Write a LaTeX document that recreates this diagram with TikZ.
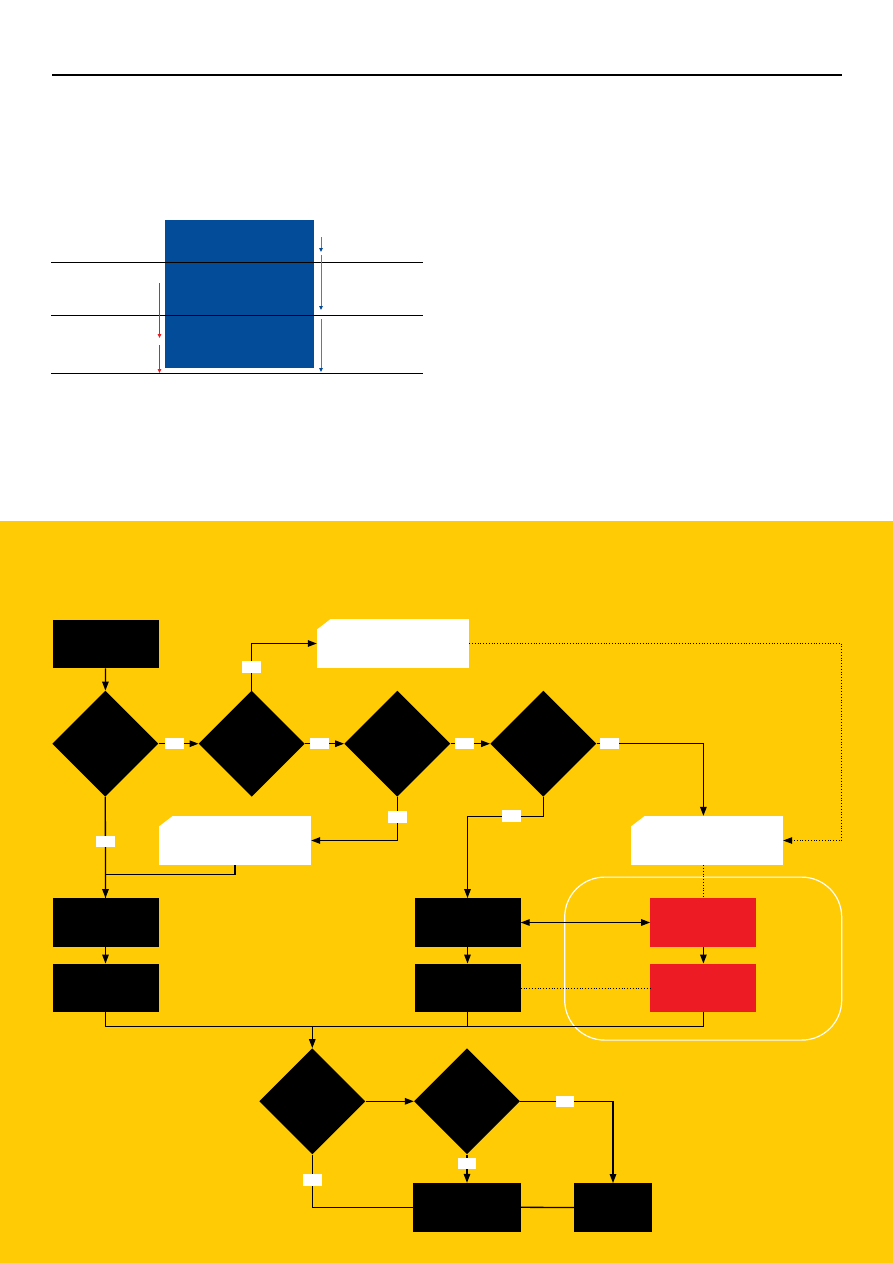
\documentclass[tikz,border=0pt]{standalone}
\usepackage{tikz}
\usetikzlibrary{shapes.geometric,arrows.meta}
\definecolor{sunyellow}{RGB}{254,203,5}
\definecolor{chartblue}{RGB}{3,76,153}
\definecolor{arrowblue}{RGB}{74,125,190}
\definecolor{alertred}{RGB}{237,28,36}

\begin{document}
\begin{tikzpicture}[x=1pt, y=-1pt,
  line/.style={line width=1.3pt},
  arr/.style={line width=1.3pt, -{Triangle[length=9pt,width=6.5pt]}},
  darr/.style={line width=1.3pt, {Triangle[length=9pt,width=6.5pt]}-{Triangle[length=9pt,width=6.5pt]}},
  dotline/.style={line width=0.8pt, dotted},
  box/.style={rectangle, fill=black, minimum width=106pt, minimum height=48.5pt, inner sep=0pt},
  redbox/.style={box, fill=alertred},
  decision/.style={diamond, fill=black, minimum width=106pt, minimum height=106pt, inner sep=0pt},
  note/.style={rectangle, fill=white, minimum width=152pt, minimum height=49pt, inner sep=0pt},
  lbl/.style={rectangle, fill=white, minimum width=18.5pt, minimum height=11.5pt, inner sep=0pt},
  grpbox/.style={rectangle, draw=white, line width=1.2pt, rounded corners=40pt,
    minimum width=277pt, minimum height=163pt}]
\useasboundingbox (0,0) rectangle (893,1263);

% Page
\fill[white] (0,0) rectangle (893,521);
\fill[sunyellow] (0,521) rectangle (893,1263);
\draw[line width=1.2pt] (52,75) -- (842,75);

% Bar chart
\fill[chartblue] (165,220) rectangle (314,368);
\foreach \y in {262.3,315.5,373.3}
  \draw[line width=1pt] (51,\y) -- (423,\y);
\draw[arrowblue, line width=1pt, -{Triangle[length=4pt,width=3.5pt,color=chartblue]}] (321,237) -- (321,252);
\draw[arrowblue, line width=1pt, -{Triangle[length=4pt,width=3.5pt,color=chartblue]}] (321,255) -- (321,310);
\draw[arrowblue, line width=1pt, -{Triangle[length=4pt,width=3.5pt,color=chartblue]}] (321,319) -- (321,372);
\draw[alertred, line width=1pt, -{Triangle[length=4pt,width=3.5pt]}] (159.5,283) -- (159.5,338);
\draw[alertred, line width=1pt, -{Triangle[length=4pt,width=3.5pt]}] (159.5,345) -- (159.5,373);

% Nodes
\node[box] (start) at (105.5,644) {};
\node[decision] (d1) at (105.3,743.7) {};
\node[decision] (d2) at (251.7,743.7) {};
\node[decision] (d3) at (397.3,743.7) {};
\node[decision] (d4) at (543.3,743.7) {};
\node[note] (note1) at (393,643.5) {};
\node[note] (note2) at (235,840.5) {};
\node[note] (note3) at (707,840.5) {};
\foreach \n in {note1,note2,note3}
  \fill[sunyellow] ([shift={(-0.5,-0.5)}]\n.north west) -- ++(15,0) -- ++(-15,11.5) -- cycle;
\node[grpbox] (grp) at (703.2,958.6) {};
\node[box] (l1) at (105.5,922.5) {};
\node[box] (l2) at (105.5,988) {};
\node[box] (m1) at (467.5,922.5) {};
\node[box] (m2) at (467.5,988) {};
\node[redbox] (r1) at (703.4,922.5) {};
\node[redbox] (r2) at (703.4,988) {};
\coordinate (merge) at (312.3,1026.3);
\coordinate (dotc) at (841.5,700);
\node[decision] (d5) at (312.3,1101.3) {};
\node[decision] (d6) at (467,1101.3) {};
\node[box, minimum width=108pt] (b2) at (467,1207.3) {};
\node[box, minimum width=78pt] (b3) at (613,1207.5) {};

% Arrows
\draw[arr] (start) -- (d1);
\draw[arr] (d1.east) -- node[lbl, pos=0.4] {} (d2.west);
\draw[arr] (d2.east) -- node[lbl, pos=0.37] {} (d3.west);
\draw[arr] (d3.east) -- node[lbl, pos=0.35] {} (d4.west);
\draw[arr] (d2.north) |- node[lbl, pos=0.25] {} (note1.west);
\draw[arr] (d3.south) |- node[lbl, pos=0.23] {} (note2.east);
\draw[arr] (d1.south) -- node[lbl, pos=0.44] {} (l1.north);
\draw[line] (note2.south) -- ++(0,9.3) -| (l1.north);
\draw[arr] (d4.south) -- ++(0,19.3) -| node[lbl, pos=0.21] {} (m1.north);
\draw[arr] (d4.east) -| node[lbl, pos=0.06] {} (note3.north -| r1);
\draw[dotline, -{Triangle[length=9pt,width=6.5pt]}] (note1.east) -| (dotc) |- (note3.east);
\draw[dotline] (note3.south -| r1) -- (r1.north);
\draw[arr] (l1) -- (l2);
\draw[arr] (m1) -- (m2);
\draw[arr] (r1) -- (r2);
\draw[darr] (m1.east) -- (r1.west);
\draw[dotline] (m2.east) -- (r2.west);
\draw[line] (l2.south) |- (merge);
\draw[line] (r2.south) |- (merge);
\draw[line] (m2.south) -- (m2.south |- merge);
\draw[arr] (merge) -- (d5.north);
\draw[arr] (d5.east) -- (d6.west);
\draw[arr] (d6.east) -| node[lbl, pos=0.24] {} (b3.north);
\draw[arr] (d6.south) -- node[lbl, pos=0.32] {} (b2.north);
\draw[line] (d5.south) |- node[lbl, pos=0.24] {} (b2.west);
\draw[line] (b2.east) -- (b3.west);
\end{tikzpicture}
\end{document}
